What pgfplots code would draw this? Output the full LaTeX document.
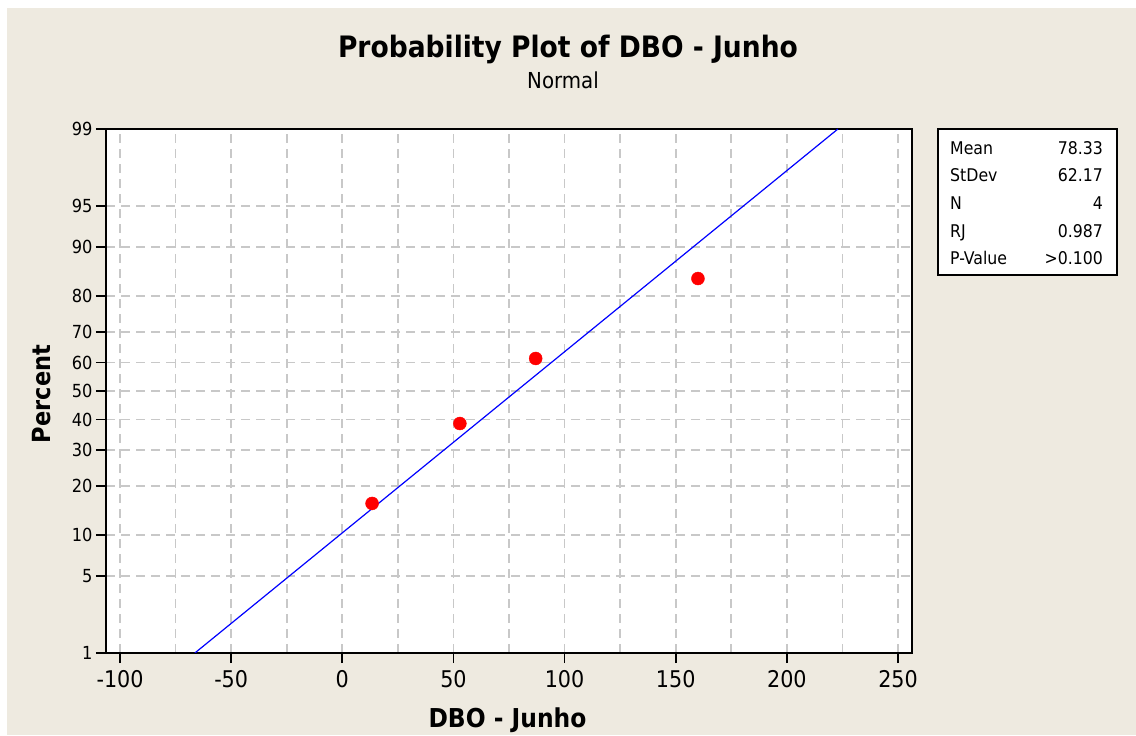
\documentclass[border=0pt]{standalone}
\usepackage{fontspec}
\setmainfont{DejaVu Sans Condensed}
\usepackage{pgfplots}
\pgfplotsset{compat=1.18}
\definecolor{bg}{RGB}{238,234,224}
\definecolor{gridc}{RGB}{200,200,200}
\begin{document}
\begin{tikzpicture}[x=1pt,y=1pt]
\fill[white] (0,0) rectangle (1136,735);
\fill[bg] (7,0) rectangle (1136,727);
\begin{axis}[
  at={(106pt,82pt)}, anchor=south west,
  scale only axis, width=806pt, height=524pt,
  xmin=-106.3, xmax=256.3, ymin=-2.326348, ymax=2.326348,
  axis background/.style={fill=white},
  axis line style={black, line width=1.6pt},
  xtick={-100,-50,...,250},
  minor xtick={-75,-25,...,225},
  ytick={-2.326348,-1.644854,-1.281552,-0.841621,-0.524401,-0.253347,0,0.253347,0.524401,0.841621,1.281552,1.644854,2.326348},
  yticklabels={1,5,10,20,30,40,50,60,70,80,90,95,99},
  tick align=outside, major tick length=10pt, minor tick length=0pt,
  tick style={black, line width=1.8pt},
  xtick pos=bottom, ytick pos=left,
  xmajorgrids, xminorgrids, ymajorgrids,
  grid style={gridc, line width=1.8pt, dash pattern=on 9pt off 6pt},
  major grid style={gridc, line width=1.8pt, dash pattern=on 9pt off 6pt},
  minor grid style={gridc, line width=1.8pt, dash pattern=on 9pt off 6pt},
  /pgf/number format/assume math mode=true,
  xticklabel style={font=\fontsize{23}{23}\selectfont, text=black, yshift=-4pt},
  yticklabel style={font=\fontsize{18}{18}\selectfont, text=black},
]
\addplot[blue, line width=1.2pt] coordinates {(-66.31,-2.326348) (222.97,2.326348)};
\addplot[only marks, mark=*, mark size=6.5pt, mark options={fill=red, draw=red}] coordinates {
  (13.4,-0.9985) (52.9,-0.2888) (87.0,0.2888) (160.0,0.9985)};
\end{axis}
\node[anchor=base, font=\bfseries\fontsize{29.5}{29.5}\selectfont] at (568,677) {Probability Plot of DBO - Junho};
\node[anchor=base, font=\fontsize{22}{22}\selectfont] at (563,646.7) {Normal};
\node[anchor=base, font=\bfseries\fontsize{26}{26}\selectfont] at (507.5,7.7) {DBO - Junho};
\node[anchor=base, rotate=90, font=\bfseries\fontsize{25}{25}\selectfont] at (50,341) {Percent};
\draw[line width=1.5pt, fill=white] (938,460) rectangle (1117,606);
\begin{scope}[every node/.style={inner sep=0pt, font=\fontsize{17.5}{17.5}\selectfont}]
\node[anchor=base west] at (950,580.7) {Mean};
\node[anchor=base west] at (950,553.3) {StDev};
\node[anchor=base west] at (950,525) {N};
\node[anchor=base west] at (950,497.3) {RJ};
\node[anchor=base west] at (950,470) {P-Value};
\node[anchor=base east] at (1103,580.7) {78.33};
\node[anchor=base east] at (1103,553.3) {62.17};
\node[anchor=base east] at (1103,525) {4};
\node[anchor=base east] at (1103,497.3) {0.987};
\node[anchor=base east] at (1103,470) {>0.100};
\end{scope}
\end{tikzpicture}
\end{document}
